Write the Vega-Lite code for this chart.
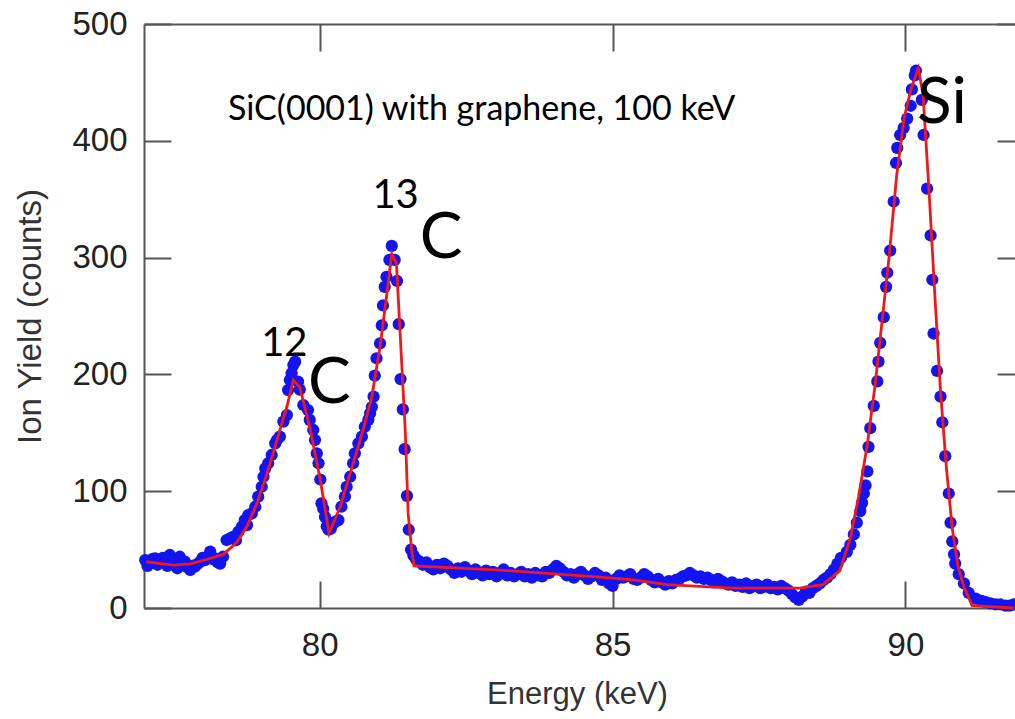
{
  "$schema": "https://vega.github.io/schema/vega-lite/v6.json",
  "width": 871,
  "height": 584,
  "autosize": "none",
  "padding": {"left": 144, "top": 24, "right": 0, "bottom": 111},
  "background": "white",
  "config": {
    "view": {"stroke": null},
    "axis": {
      "labelFont": "Liberation Sans",
      "titleFont": "Liberation Sans",
      "labelFontSize": 33,
      "titleFontSize": 31,
      "titleFontWeight": "normal",
      "labelColor": "#222",
      "titleColor": "#333",
      "domainColor": "#555",
      "tickColor": "#555",
      "domainWidth": 2,
      "tickWidth": 2,
      "grid": false,
      "labelFlush": false,
      "labelOverlap": false
    }
  },
  "datasets": {
    "pts": [
      {"e":77.02,"y":41},{"e":77.06,"y":36},{"e":77.10,"y":38},{"e":77.15,"y":42},{"e":77.19,"y":42.5},{"e":77.23,"y":37},{"e":77.27,"y":39.6},{"e":77.32,"y":43},{"e":77.36,"y":41},{"e":77.40,"y":36},{"e":77.44,"y":45.4},{"e":77.49,"y":40},{"e":77.53,"y":38},{"e":77.57,"y":34},{"e":77.61,"y":43.9},{"e":77.66,"y":38},{"e":77.70,"y":39.6},{"e":77.74,"y":35},{"e":77.79,"y":32.5},{"e":77.83,"y":36},{"e":77.87,"y":35.4},{"e":77.92,"y":38},{"e":77.96,"y":39.6},{"e":78.00,"y":43},{"e":78.04,"y":41},{"e":78.09,"y":44},{"e":78.13,"y":48.2},{"e":78.17,"y":42},{"e":78.21,"y":42.5},{"e":78.26,"y":39},{"e":78.30,"y":38},{"e":78.35,"y":43.9},
      {"e":78.41,"y":58.2},{"e":78.47,"y":59.7},{"e":78.52,"y":61},{"e":78.57,"y":58},{"e":78.61,"y":65.3},{"e":78.67,"y":69.6},{"e":78.72,"y":75.3},{"e":78.76,"y":71},{"e":78.78,"y":79.6},{"e":78.84,"y":81},{"e":78.90,"y":86.7},{"e":78.95,"y":95.3},{"e":79.01,"y":103.8},{"e":79.04,"y":112.4},{"e":79.07,"y":119.6},{"e":79.12,"y":123.9},{"e":79.18,"y":131},{"e":79.24,"y":141},{"e":79.27,"y":143.8},{"e":79.32,"y":146.7},{"e":79.38,"y":159.5},{"e":79.44,"y":165.2},{"e":79.46,"y":186.6},{"e":79.49,"y":195.2},{"e":79.52,"y":201},{"e":79.55,"y":208},{"e":79.58,"y":210.9},
      {"e":79.63,"y":193.8},{"e":79.66,"y":187},{"e":79.72,"y":173.8},{"e":79.80,"y":169.5},{"e":79.83,"y":161},{"e":79.89,"y":152.4},{"e":79.92,"y":143.8},{"e":79.95,"y":132.4},{"e":79.98,"y":123.9},{"e":80.01,"y":110},{"e":80.03,"y":89.6},{"e":80.06,"y":85},{"e":80.09,"y":78},{"e":80.12,"y":70},{"e":80.15,"y":67},{"e":80.19,"y":68},{"e":80.23,"y":72.5},{"e":80.27,"y":74},{"e":80.32,"y":75.3},{"e":80.37,"y":86.7},{"e":80.43,"y":95.3},{"e":80.46,"y":103.8},{"e":80.52,"y":112.4},{"e":80.57,"y":123.9},{"e":80.60,"y":132.4},{"e":80.66,"y":141},{"e":80.72,"y":146.7},{"e":80.77,"y":155.2},{"e":80.83,"y":161},{"e":80.86,"y":166.7},{"e":80.89,"y":172},{"e":80.92,"y":181},{"e":80.94,"y":199},{"e":80.97,"y":213.8},{"e":81.03,"y":226.6},{"e":81.06,"y":242},{"e":81.08,"y":259},{"e":81.11,"y":275},{"e":81.14,"y":283.6},{"e":81.19,"y":298},{"e":81.23,"y":310},{"e":81.28,"y":298},{"e":81.32,"y":280},{"e":81.35,"y":243},{"e":81.38,"y":196},{"e":81.42,"y":170},{"e":81.45,"y":136},{"e":81.49,"y":96},{"e":81.52,"y":67},{"e":81.56,"y":50},{"e":81.60,"y":45},
      {"e":81.64,"y":42},{"e":81.70,"y":40},{"e":81.76,"y":37},{"e":81.82,"y":39},{"e":81.88,"y":35},{"e":81.94,"y":33},{"e":82.00,"y":37},{"e":82.06,"y":34},{"e":82.12,"y":38},{"e":82.18,"y":36},{"e":82.24,"y":33},{"e":82.30,"y":30},{"e":82.36,"y":34},{"e":82.42,"y":31},{"e":82.48,"y":35},{"e":82.54,"y":32},{"e":82.60,"y":29},{"e":82.66,"y":33},{"e":82.72,"y":30},{"e":82.78,"y":28},{"e":82.84,"y":32},{"e":82.90,"y":29},{"e":82.96,"y":31},{"e":83.02,"y":27},{"e":83.08,"y":30},{"e":83.14,"y":33},{"e":83.20,"y":28},{"e":83.26,"y":30},{"e":83.32,"y":27},{"e":83.38,"y":29},{"e":83.44,"y":31},{"e":83.50,"y":27},{"e":83.56,"y":29},{"e":83.62,"y":26},{"e":83.68,"y":30},{"e":83.74,"y":28},{"e":83.80,"y":27},{"e":83.86,"y":31},{"e":83.92,"y":30},{"e":83.98,"y":33},{"e":84.04,"y":36},{"e":84.10,"y":34},{"e":84.16,"y":31},{"e":84.22,"y":28},{"e":84.28,"y":29},{"e":84.34,"y":26},{"e":84.40,"y":29},{"e":84.46,"y":31},{"e":84.52,"y":28},{"e":84.58,"y":25},{"e":84.64,"y":27},{"e":84.70,"y":30},{"e":84.76,"y":28},{"e":84.82,"y":24},{"e":84.88,"y":26},{"e":84.94,"y":21},{"e":85.00,"y":19},{"e":85.06,"y":25},{"e":85.12,"y":28},{"e":85.18,"y":26},{"e":85.24,"y":27},{"e":85.30,"y":29},{"e":85.36,"y":25},{"e":85.42,"y":24},{"e":85.48,"y":26},{"e":85.54,"y":29},{"e":85.60,"y":27},{"e":85.66,"y":24},{"e":85.72,"y":22},{"e":85.78,"y":25},{"e":85.84,"y":22},{"e":85.90,"y":20},{"e":85.96,"y":23},{"e":86.02,"y":21},{"e":86.08,"y":24},{"e":86.14,"y":25},{"e":86.20,"y":27},{"e":86.26,"y":28},{"e":86.32,"y":30},{"e":86.38,"y":28},{"e":86.44,"y":26},{"e":86.50,"y":27},{"e":86.56,"y":25},{"e":86.62,"y":26},{"e":86.68,"y":24},{"e":86.74,"y":22},{"e":86.80,"y":25},{"e":86.86,"y":23},{"e":86.92,"y":21},{"e":86.98,"y":20},{"e":87.04,"y":22},{"e":87.10,"y":19},{"e":87.16,"y":20},{"e":87.22,"y":18},{"e":87.28,"y":21},{"e":87.34,"y":17},{"e":87.40,"y":19},{"e":87.46,"y":20},{"e":87.52,"y":17},{"e":87.58,"y":18},{"e":87.64,"y":20},{"e":87.70,"y":17},{"e":87.76,"y":18},{"e":87.82,"y":16},{"e":87.88,"y":19},{"e":87.94,"y":17},{"e":88.00,"y":15},{"e":88.06,"y":12},{"e":88.12,"y":9},{"e":88.18,"y":7},{"e":88.24,"y":10},{"e":88.30,"y":14},{"e":88.36,"y":13},{"e":88.42,"y":17},{"e":88.48,"y":19},{"e":88.54,"y":21},{"e":88.60,"y":24},{"e":88.66,"y":26},{"e":88.72,"y":29},{"e":88.78,"y":33},{"e":88.84,"y":38},{"e":88.90,"y":43},
      {"e":89.00,"y":48},{"e":89.06,"y":54},{"e":89.12,"y":63},{"e":89.17,"y":73},{"e":89.23,"y":83},{"e":89.26,"y":90},{"e":89.29,"y":98},{"e":89.32,"y":105},{"e":89.35,"y":117},{"e":89.37,"y":138},{"e":89.40,"y":154},{"e":89.46,"y":173},{"e":89.52,"y":194},{"e":89.54,"y":211},{"e":89.57,"y":227},{"e":89.63,"y":249},{"e":89.67,"y":275},{"e":89.69,"y":287},{"e":89.74,"y":306},{"e":89.80,"y":348},{"e":89.84,"y":381},{"e":89.86,"y":394},{"e":89.91,"y":405},{"e":89.97,"y":411},{"e":90.03,"y":419},{"e":90.09,"y":430},{"e":90.11,"y":444},{"e":90.16,"y":456},{"e":90.18,"y":460},
      {"e":90.28,"y":435},{"e":90.31,"y":405},{"e":90.37,"y":359},{"e":90.43,"y":319},{"e":90.46,"y":281},{"e":90.48,"y":235},{"e":90.54,"y":203},{"e":90.60,"y":181},{"e":90.63,"y":159},{"e":90.68,"y":130},{"e":90.74,"y":98},{"e":90.77,"y":73},{"e":90.80,"y":57},{"e":90.83,"y":46},{"e":90.85,"y":38},{"e":90.91,"y":29},{"e":91.00,"y":21},{"e":91.08,"y":13},{"e":91.20,"y":8},{"e":91.30,"y":6},{"e":91.37,"y":5},{"e":91.45,"y":4},{"e":91.54,"y":3},{"e":91.62,"y":3},{"e":91.71,"y":2},{"e":91.78,"y":2},{"e":91.85,"y":3}
    ],
    "fit": [
      {"e":77.04,"y":39.6},{"e":77.5,"y":36.7},{"e":77.79,"y":37.8},{"e":78.07,"y":41.5},{"e":78.35,"y":45.9},{"e":78.58,"y":55.9},{"e":78.76,"y":70},{"e":78.93,"y":90},{"e":79.1,"y":115},{"e":79.27,"y":143.8},{"e":79.44,"y":172.5},{"e":79.55,"y":195},{"e":79.66,"y":189},{"e":79.83,"y":155},{"e":80.01,"y":109.6},{"e":80.16,"y":64},{"e":80.35,"y":86.7},{"e":80.57,"y":123.9},{"e":80.74,"y":152.4},{"e":80.89,"y":181},{"e":81.03,"y":223.7},{"e":81.14,"y":266.5},{"e":81.23,"y":303},{"e":81.31,"y":295},{"e":81.37,"y":238},{"e":81.46,"y":152.4},{"e":81.51,"y":81},{"e":81.57,"y":49.7},{"e":81.61,"y":36},
      {"e":83.08,"y":32.5},{"e":84.79,"y":26.5},{"e":85.35,"y":24},{"e":85.93,"y":20},{"e":87.06,"y":17},{"e":88.2,"y":17},{"e":88.59,"y":20},{"e":88.88,"y":32},{"e":89.06,"y":60},{"e":89.2,"y":95},{"e":89.35,"y":140},{"e":89.48,"y":190},{"e":89.6,"y":245},{"e":89.72,"y":300},{"e":89.85,"y":370},{"e":89.98,"y":420},{"e":90.1,"y":445},{"e":90.22,"y":462},{"e":90.3,"y":440},{"e":90.4,"y":360},{"e":90.5,"y":270},{"e":90.6,"y":185},{"e":90.7,"y":120},{"e":90.8,"y":68},{"e":90.9,"y":35},{"e":91.0,"y":18},{"e":91.14,"y":2},{"e":91.85,"y":0}
    ],
    "note": [{"e":78.434,"y":417.8,"t":"SiC(0001) with graphene, 100 keV"}],
    "big": [{"e":90.198,"y":415,"t":"Si"},{"e":81.71,"y":299.7,"t":"C"},{"e":79.80,"y":175.5,"t":"C"}],
    "sup": [{"e":80.90,"y":342.5,"t":"13"},{"e":79.00,"y":215.8,"t":"12"}]
  },
  "resolve": {"axis": {"x": "independent", "y": "independent"}},
  "layer": [
    {
      "data": {"name": "pts"},
      "mark": {"type": "circle", "color": "#1414f0", "opacity": 1, "size": 150},
      "encoding": {
        "x": {"field": "e", "type": "quantitative", "scale": {"domain": [77, 91.871], "nice": false, "zero": false},
          "axis": {"orient": "bottom", "values": [80, 85, 90], "tickSize": -27, "labelPadding": 48, "title": "Energy (keV)", "titleX": 433, "titleY": 86, "titleBaseline": "middle"}},
        "y": {"field": "y", "type": "quantitative", "scale": {"domain": [0, 500], "nice": false, "zero": false},
          "axis": {"orient": "left", "values": [0, 100, 200, 300, 400, 500], "tickSize": -27, "labelPadding": 44, "labelBaseline": "middle", "title": "Ion Yield (counts)", "titleFontSize": 33, "titleX": -114, "titleY": 292, "titleBaseline": "middle", "titleAngle": 270}}
      }
    },
    {
      "data": {"name": "fit"},
      "mark": {"type": "line", "color": "#f01818", "strokeWidth": 2.8},
      "encoding": {
        "x": {"field": "e", "type": "quantitative", "axis": {"orient": "top", "values": [80, 85, 90], "tickSize": -27, "labels": false, "title": null}},
        "y": {"field": "y", "type": "quantitative", "axis": {"orient": "right", "values": [0, 100, 200, 300, 400, 500], "tickSize": -27, "labels": false, "title": null, "domain": false, "offset": 9}}
      }
    },
    {
      "data": {"name": "note"},
      "mark": {"type": "text", "font": "Lato", "fontSize": 34, "align": "left", "baseline": "alphabetic", "color": "#000"},
      "encoding": {
        "x": {"field": "e", "type": "quantitative", "axis": null},
        "y": {"field": "y", "type": "quantitative", "axis": null},
        "text": {"field": "t"}
      }
    },
    {
      "data": {"name": "big"},
      "mark": {"type": "text", "font": "Lato", "fontSize": 64, "align": "left", "baseline": "alphabetic", "color": "#000"},
      "encoding": {
        "x": {"field": "e", "type": "quantitative", "axis": null},
        "y": {"field": "y", "type": "quantitative", "axis": null},
        "text": {"field": "t"}
      }
    },
    {
      "data": {"name": "sup"},
      "mark": {"type": "text", "font": "Lato", "fontSize": 40, "align": "left", "baseline": "alphabetic", "color": "#000"},
      "encoding": {
        "x": {"field": "e", "type": "quantitative", "axis": null},
        "y": {"field": "y", "type": "quantitative", "axis": null},
        "text": {"field": "t"}
      }
    }
  ]
}
